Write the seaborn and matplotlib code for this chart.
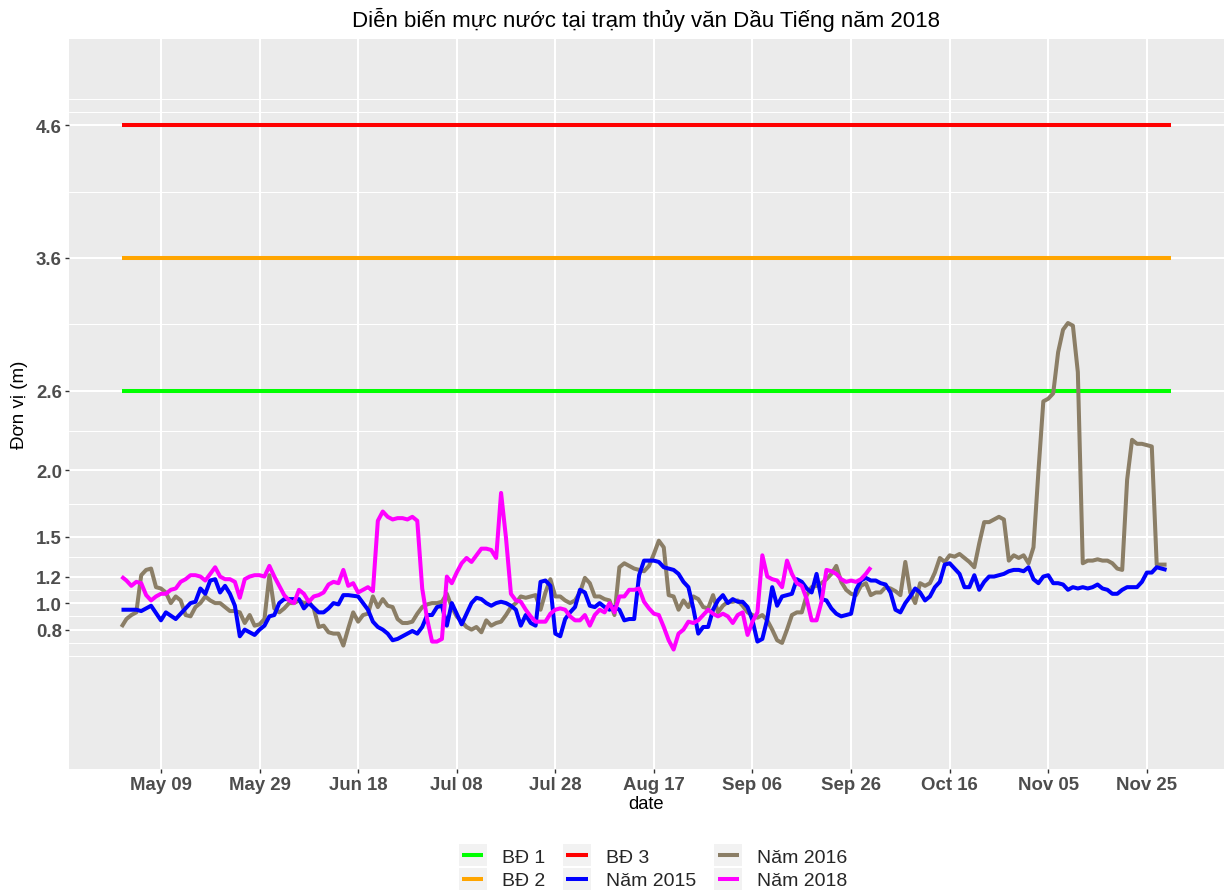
import numpy as np
import pandas as pd
import matplotlib
matplotlib.use("Agg")
import matplotlib.pyplot as plt
import matplotlib.dates as mdates
from matplotlib.ticker import FixedLocator
from matplotlib.legend_handler import HandlerBase
from matplotlib.patches import Rectangle
from matplotlib.lines import Line2D
import seaborn as sns

# ---------------- data ----------------
start_date = "2018-05-01"
bd_end_date = "2018-11-30"

bd_names = ["BĐ 1", "BĐ 2", "BĐ 3"]
bd_levels = [2.6, 3.6, 4.6]

# Năm 2015: day offsets from start_date and water level (m)
days_2015 = [0, 3, 4, 6, 8, 9, 11, 12, 14, 15, 16, 17, 18, 19, 20, 21, 22, 23, 24, 25,
             26, 27, 28, 29, 30, 31, 32, 33, 35, 36, 37, 38, 40, 41, 42, 43, 44, 45, 46, 48,
             49, 50, 51, 52, 53, 54, 55, 56, 57, 58, 59, 60, 61, 62, 63, 64, 65, 66, 67, 68,
             69, 70, 71, 72, 73, 74, 75, 76, 77, 78, 79, 80, 81, 82, 83, 84, 85, 86, 87, 88,
             89, 90, 91, 92, 93, 94, 95, 96, 97, 98, 99, 100, 101, 102, 103, 104, 105, 106, 107, 108,
             109, 110, 111, 112, 113, 114, 115, 116, 117, 118, 119, 120, 121, 122, 123, 124, 125, 126, 127, 128,
             129, 130, 131, 132, 133, 134, 135, 136, 137, 138, 139, 140, 141, 142, 143, 144, 145, 146, 147, 148,
             149, 150, 151, 152, 153, 154, 155, 156, 157, 158, 159, 160, 161, 162, 163, 164, 165, 166, 167, 168,
             169, 170, 171, 172, 173, 174, 175, 176, 177, 178, 179, 180, 181, 182, 183, 184, 185, 186, 187, 188,
             189, 190, 191, 192, 193, 194, 195, 196, 197, 198, 199, 200, 201, 202, 203, 204, 205, 206, 207, 208,
             209, 210, 211, 212]
level_2015 = [0.95, 0.95, 0.94, 0.98, 0.87, 0.93, 0.88, 0.92, 1.00, 1.01, 1.11, 1.07, 1.17, 1.18, 1.08, 1.13, 1.07, 0.98, 0.75, 0.80,
              0.78, 0.76, 0.80, 0.83, 0.90, 0.91, 1.00, 1.03, 1.03, 1.03, 0.96, 1.00, 0.93, 0.93, 0.96, 1.00, 0.99, 1.06, 1.06, 1.05,
              1.00, 0.95, 0.86, 0.82, 0.80, 0.77, 0.72, 0.73, 0.75, 0.77, 0.79, 0.77, 0.82, 0.91, 0.91, 0.97, 0.98, 0.83, 1.00, 0.92,
              0.84, 0.92, 1.00, 1.04, 1.03, 1.00, 0.98, 1.00, 1.01, 1.00, 0.98, 0.95, 0.83, 0.91, 0.85, 0.83, 1.16, 1.17, 1.13, 0.77,
              0.75, 0.88, 0.93, 0.97, 1.10, 1.08, 0.98, 0.97, 1.00, 0.97, 0.95, 0.97, 0.95, 0.87, 0.88, 0.88, 1.21, 1.32, 1.32, 1.32,
              1.31, 1.27, 1.26, 1.25, 1.22, 1.16, 1.12, 0.96, 0.77, 0.82, 0.82, 0.95, 1.02, 1.06, 1.00, 1.03, 1.01, 1.01, 0.97, 0.87,
              0.71, 0.73, 0.88, 1.12, 0.98, 1.05, 1.06, 1.07, 1.18, 1.16, 1.11, 1.08, 1.22, 1.03, 1.02, 0.96, 0.92, 0.90, 0.91, 0.92,
              1.10, 1.17, 1.19, 1.17, 1.17, 1.15, 1.14, 1.08, 0.95, 0.93, 1.00, 1.05, 1.11, 1.08, 1.02, 1.05, 1.12, 1.16, 1.29, 1.30,
              1.26, 1.22, 1.12, 1.12, 1.21, 1.10, 1.16, 1.20, 1.20, 1.21, 1.22, 1.24, 1.25, 1.25, 1.24, 1.27, 1.18, 1.15, 1.20, 1.21,
              1.15, 1.15, 1.14, 1.10, 1.12, 1.11, 1.12, 1.11, 1.12, 1.14, 1.11, 1.10, 1.07, 1.07, 1.10, 1.12, 1.12, 1.12, 1.16, 1.23,
              1.23, 1.27, 1.26, 1.25]

# Năm 2016: daily values from start_date
level_2016 = [0.82, 0.88, 0.91, 0.93, 1.21, 1.25, 1.26, 1.12, 1.11, 1.08,
              1.00, 1.05, 1.02, 0.91, 0.90, 0.97, 1.00, 1.05, 1.02, 1.00,
              1.00, 0.97, 0.94, 0.94, 0.93, 0.85, 0.91, 0.83, 0.84, 0.88,
              1.21, 0.96, 0.93, 0.96, 1.00, 1.00, 1.02, 1.00, 1.01, 0.96,
              0.82, 0.83, 0.78, 0.77, 0.77, 0.68, 0.81, 0.93, 0.86, 0.91,
              0.92, 1.05, 0.97, 1.03, 0.98, 0.97, 0.88, 0.85, 0.85, 0.86,
              0.92, 0.97, 0.99, 1.00, 1.00, 1.01, 1.07, 0.97, 0.90, 0.86,
              0.82, 0.80, 0.82, 0.78, 0.87, 0.83, 0.85, 0.86, 0.91, 0.97,
              1.00, 1.05, 1.04, 1.05, 1.06, 0.95, 1.08, 1.18, 1.05, 1.05,
              1.02, 1.00, 1.02, 1.08, 1.19, 1.15, 1.05, 1.05, 1.03, 1.02,
              0.91, 1.27, 1.30, 1.28, 1.26, 1.25, 1.24, 1.28, 1.37, 1.47,
              1.42, 1.06, 1.05, 0.95, 1.02, 0.97, 1.05, 1.03, 0.97, 0.96,
              1.06, 0.93, 0.98, 1.01, 1.01, 1.02, 0.98, 0.93, 0.91, 0.89,
              0.91, 0.87, 0.80, 0.72, 0.70, 0.80, 0.91, 0.93, 0.93, 1.06,
              1.12, 1.13, 1.15, 1.18, 1.22, 1.28, 1.16, 1.10, 1.07, 1.06,
              1.13, 1.15, 1.06, 1.08, 1.08, 1.12, 1.11, 1.09, 1.06, 1.31,
              1.08, 1.00, 1.15, 1.13, 1.15, 1.23, 1.34, 1.31, 1.36, 1.35,
              1.37, 1.34, 1.31, 1.27, 1.45, 1.61, 1.61, 1.63, 1.65, 1.63,
              1.32, 1.36, 1.34, 1.36, 1.30, 1.42, 1.99, 2.52, 2.54, 2.58,
              2.89, 3.06, 3.11, 3.09, 2.74, 1.30, 1.32, 1.32, 1.33, 1.32,
              1.32, 1.30, 1.26, 1.25, 1.93, 2.23, 2.20, 2.20, 2.19, 2.18,
              1.29, 1.29, 1.29]

# Năm 2018: daily values from start_date
level_2018 = [1.20, 1.17, 1.13, 1.16, 1.15, 1.06, 1.02, 1.05, 1.07, 1.07,
              1.10, 1.11, 1.16, 1.18, 1.21, 1.21, 1.20, 1.17, 1.22, 1.27,
              1.20, 1.18, 1.18, 1.16, 1.04, 1.18, 1.20, 1.21, 1.21, 1.20,
              1.28, 1.20, 1.13, 1.06, 1.02, 1.00, 1.10, 1.07, 1.01, 1.05,
              1.06, 1.08, 1.14, 1.16, 1.15, 1.25, 1.13, 1.15, 1.08, 1.10,
              1.12, 1.09, 1.62, 1.69, 1.65, 1.63, 1.64, 1.64, 1.63, 1.65,
              1.62, 1.11, 0.88, 0.71, 0.71, 0.73, 1.20, 1.15, 1.23, 1.30,
              1.34, 1.31, 1.36, 1.41, 1.41, 1.40, 1.34, 1.83, 1.49, 1.07,
              1.02, 1.01, 0.95, 0.90, 0.86, 0.86, 0.86, 0.92, 0.95, 0.96,
              0.95, 0.90, 0.87, 0.87, 0.91, 0.83, 0.91, 0.95, 0.93, 1.00,
              0.93, 1.05, 1.05, 1.10, 1.10, 1.11, 1.01, 0.96, 0.92, 0.91,
              0.82, 0.72, 0.65, 0.77, 0.80, 0.86, 0.85, 0.87, 0.91, 0.95,
              0.92, 0.90, 0.92, 0.90, 0.85, 0.91, 0.93, 0.76, 0.86, 0.93,
              1.36, 1.20, 1.18, 1.17, 1.12, 1.32, 1.22, 1.15, 1.13, 1.03,
              0.87, 0.87, 1.01, 1.25, 1.24, 1.22, 1.18, 1.16, 1.17, 1.16,
              1.18, 1.22, 1.27]

series_order = ["BĐ 1", "BĐ 2", "BĐ 3", "Năm 2015", "Năm 2016", "Năm 2018"]
series_colors = ["#00FF00", "#FFA500", "#FF0000", "#0000FF", "#8B7E66", "#FF00FF"]

y_breaks = [0.8, 1.0, 1.2, 1.5, 2.0, 2.6, 3.6, 4.6]
y_minor = [0.6, 0.7, 0.9, 1.1, 1.35, 1.75, 2.3, 3.1, 4.1, 4.7, 4.8]
x_break_start = "2018-05-09"
x_break_count = 11

title = "Diễn biến mực nước tại trạm thủy văn Dầu Tiếng năm 2018"
x_title = "date"
y_title = "Đơn vị (m)"

# ---------------- build long table ----------------
start = pd.Timestamp(start_date)
frames = []
for name, lvl in zip(bd_names, bd_levels):
    frames.append(pd.DataFrame({"date": [start, pd.Timestamp(bd_end_date)],
                                "level": [lvl, lvl], "series": name}))
frames.append(pd.DataFrame({"date": start + pd.to_timedelta(days_2015, unit="D"),
                            "level": level_2015, "series": "Năm 2015"}))
frames.append(pd.DataFrame({"date": pd.date_range(start, periods=len(level_2016), freq="D"),
                            "level": level_2016, "series": "Năm 2016"}))
frames.append(pd.DataFrame({"date": pd.date_range(start, periods=len(level_2018), freq="D"),
                            "level": level_2018, "series": "Năm 2018"}))
df = pd.concat(frames, ignore_index=True)
palette = dict(zip(series_order, series_colors))

# ---------------- style ----------------
sns.set_style("darkgrid")
plt.rcParams["font.family"] = ["Liberation Sans", "DejaVu Sans"]

W, H = 1224, 895
fig = plt.figure(figsize=(W / 100, H / 100), dpi=100)
pl, pr, pt, pb = 69, 1224, 40, 770
ax = fig.add_axes([pl / W, 1 - pb / H, (pr - pl) / W, (pb - pt) / H])
ax.set_facecolor("#EBEBEB")
for s in ax.spines.values():
    s.set_visible(False)

LW = 2.9
draw_order = ["BĐ 1", "BĐ 2", "BĐ 3", "Năm 2016", "Năm 2015", "Năm 2018"]
for z, name in enumerate(draw_order):
    sns.lineplot(data=df[df["series"] == name], x="date", y="level",
                 color=palette[name], linewidth=LW, ax=ax, zorder=3 + z,
                 estimator=None, solid_capstyle="butt", legend=False)

ax.set_ylim(-0.25, 5.25)
ax.margins(x=0.05)

x_breaks = pd.date_range(x_break_start, periods=x_break_count, freq="20D")
ax.set_xticks(x_breaks)
ax.xaxis.set_major_formatter(mdates.DateFormatter("%b %d"))
ax.set_yticks(y_breaks)
ax.set_yticklabels([f"{v:.1f}" for v in y_breaks])
ax.yaxis.set_minor_locator(FixedLocator(y_minor))
ax.xaxis.set_minor_locator(FixedLocator([]))

ax.grid(False)
ax.grid(True, which="major", axis="both", color="white", linewidth=1.45, zorder=1)
ax.grid(True, which="minor", axis="y", color="white", linewidth=0.75, zorder=1)
ax.set_axisbelow(True)

ax.tick_params(axis="both", which="major", length=2.9, width=1.0, color="#333333",
               labelsize=13.4, labelcolor="#4D4D4D", pad=2.2,
               bottom=True, left=True)
ax.tick_params(axis="y", which="minor", length=0)
for lab in ax.get_xticklabels() + ax.get_yticklabels():
    lab.set_fontweight("bold")

ax.set_xlabel(x_title, fontsize=13.2, color="black")
ax.set_ylabel(y_title, fontsize=13.5, color="black")
ax.xaxis.set_label_coords(0.5, (pb - 805) / (pb - pt))
ax.xaxis.label.set_va("center")
ax.yaxis.set_label_coords((20 - pl) / (pr - pl), 0.5)
ax.yaxis.label.set_va("center")

fig.text((pl + pr) / 2 / W, 1 - 20 / H, title, ha="center", va="center",
         fontsize=16, color="black")


class KeyHandler(HandlerBase):
    def create_artists(self, legend, orig_handle, xdescent, ydescent,
                       width, height, fontsize, trans):
        x0, y0 = -xdescent, -ydescent
        bg = Rectangle((x0, y0), width, height, facecolor="#F2F2F2",
                       edgecolor="none", transform=trans)
        ym = y0 + height / 2
        ln = Line2D([x0 + 0.12 * width, x0 + 0.88 * width], [ym, ym],
                    color=orig_handle.get_color(), linewidth=orig_handle.get_linewidth(),
                    solid_capstyle="butt", transform=trans)
        return [bg, ln]


handles = [Line2D([], [], color=palette[n], linewidth=LW) for n in series_order]
fig.legend(handles, series_order, loc="center", bbox_to_anchor=(653 / W, 1 - 868 / H),
           ncol=3, frameon=False, fontsize=14, handlelength=1.44, handleheight=1.34,
           handletextpad=0.77, columnspacing=0.93, labelspacing=0.1,
           handler_map={Line2D: KeyHandler()})

fig.savefig("out.png", dpi=100)
